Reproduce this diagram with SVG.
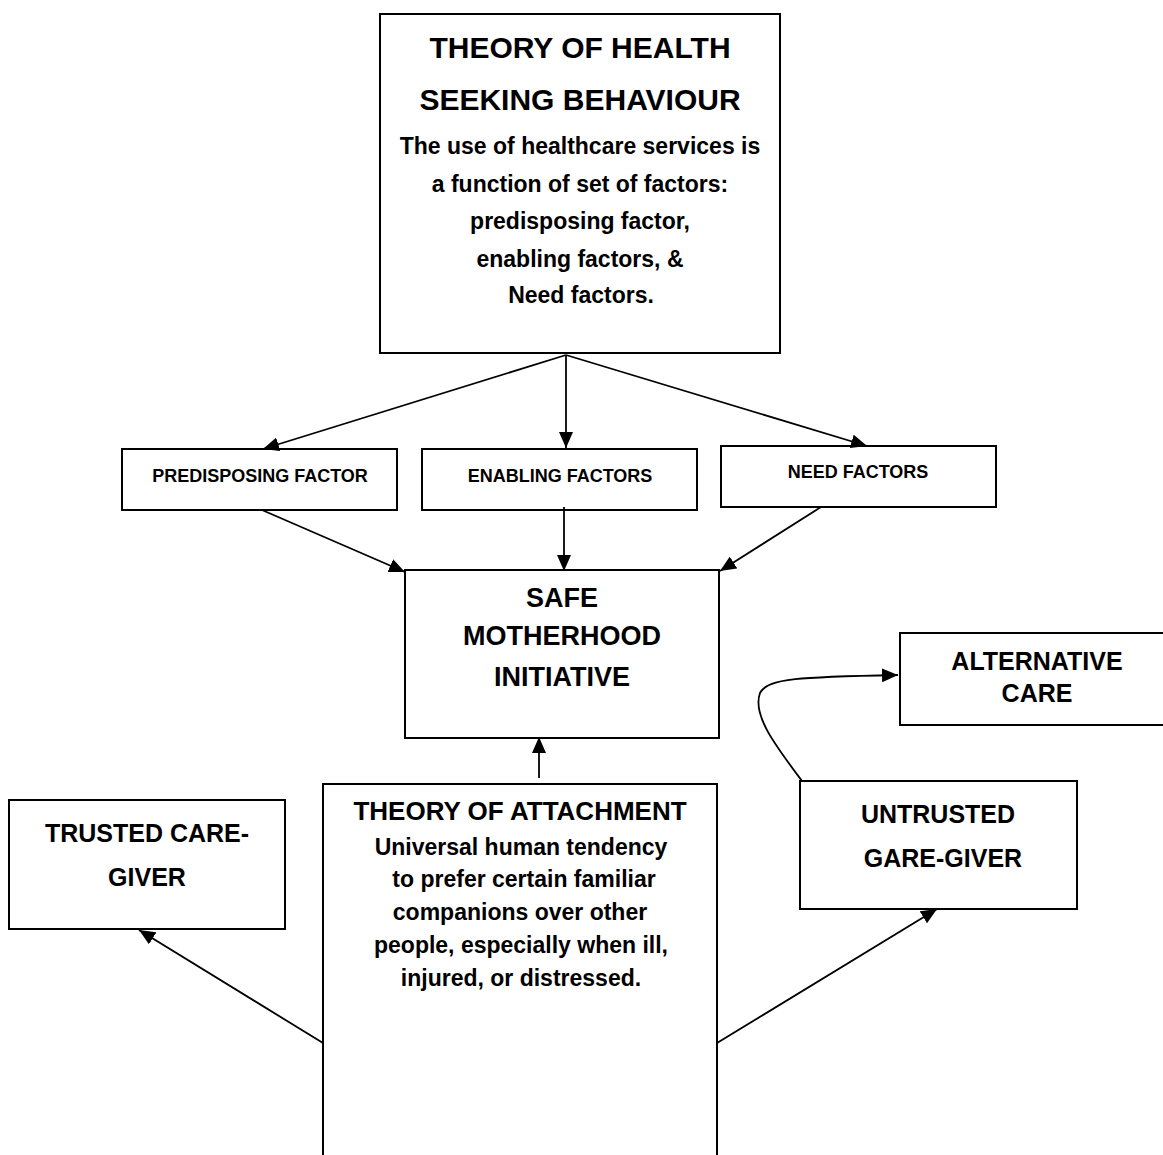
<svg xmlns="http://www.w3.org/2000/svg" width="1163" height="1155" viewBox="0 0 1163 1155">
<style>
.box{fill:#fff;stroke:#000;stroke-width:2}
.t{font-family:"Liberation Sans",Arial,sans-serif;font-weight:bold;fill:#000;text-anchor:middle}
.con{fill:none;stroke:#000;stroke-width:1.8}
</style>
<defs>
<marker id="ah" viewBox="0 0 16 14" refX="16" refY="7" markerWidth="16" markerHeight="14" markerUnits="userSpaceOnUse" orient="auto">
<path d="M0,0 L16,7 L0,14 z" fill="#000"/>
</marker>
</defs>
<rect width="1163" height="1155" fill="#fff"/>
<g id="health-theory">
<rect class="box" x="380" y="14" width="400" height="339"/>
<text class="t" x="580" y="58" font-size="30">THEORY OF HEALTH</text>
<text class="t" x="580" y="110" font-size="30">SEEKING BEHAVIOUR</text>
<text class="t" x="580" y="154" font-size="23">The use of healthcare services is</text>
<text class="t" x="580" y="192" font-size="23">a function of set of factors:</text>
<text class="t" x="580" y="229" font-size="23">predisposing factor,</text>
<text class="t" x="580" y="267" font-size="23">enabling factors, &amp;</text>
<text class="t" x="581" y="303" font-size="23">Need factors.</text>
</g>
<g id="predisposing">
<rect class="box" x="122" y="449" width="275" height="61"/>
<text class="t" x="260" y="482" font-size="18">PREDISPOSING FACTOR</text>
</g>
<g id="enabling">
<rect class="box" x="422" y="449" width="275" height="61"/>
<text class="t" x="560" y="482" font-size="18">ENABLING FACTORS</text>
</g>
<g id="need">
<rect class="box" x="721" y="446" width="275" height="61"/>
<text class="t" x="858" y="478" font-size="18">NEED FACTORS</text>
</g>
<g id="safe-motherhood">
<rect class="box" x="405" y="570" width="314" height="168"/>
<text class="t" x="562" y="607" font-size="27">SAFE</text>
<text class="t" x="562" y="645" font-size="27">MOTHERHOOD</text>
<text class="t" x="562" y="686" font-size="27">INITIATIVE</text>
</g>
<g id="alternative-care">
<rect class="box" x="900" y="633" width="300" height="92"/>
<text class="t" x="1037" y="670" font-size="25">ALTERNATIVE</text>
<text class="t" x="1037" y="702" font-size="25">CARE</text>
</g>
<g id="trusted">
<rect class="box" x="9" y="800" width="276" height="129"/>
<text class="t" x="147" y="842" font-size="25">TRUSTED CARE-</text>
<text class="t" x="147" y="886" font-size="25">GIVER</text>
</g>
<g id="untrusted">
<rect class="box" x="800" y="781" width="277" height="128"/>
<text class="t" x="938" y="823" font-size="25">UNTRUSTED</text>
<text class="t" x="943" y="867" font-size="25">GARE-GIVER</text>
</g>
<g id="attachment">
<rect class="box" x="323" y="784" width="394" height="400"/>
<text class="t" x="520" y="820" font-size="26">THEORY OF ATTACHMENT</text>
<text class="t" x="521" y="855" font-size="23">Universal human tendency</text>
<text class="t" x="524" y="887" font-size="23">to prefer certain familiar</text>
<text class="t" x="520" y="920" font-size="23">companions over other</text>
<text class="t" x="521" y="953" font-size="23">people, especially when ill,</text>
<text class="t" x="521" y="986" font-size="23">injured, or distressed.</text>
</g>
<g id="connectors">
<path class="con" d="M566,355 L263,449" marker-end="url(#ah)"/>
<path class="con" d="M566,355 L566,448" marker-end="url(#ah)"/>
<path class="con" d="M566,355 L867,446" marker-end="url(#ah)"/>
<path class="con" d="M262,510 L405,572" marker-end="url(#ah)"/>
<path class="con" d="M564,507 L564,571" marker-end="url(#ah)"/>
<path class="con" d="M821,507 L720,571" marker-end="url(#ah)"/>
<path class="con" d="M539,778 L539,737" marker-end="url(#ah)"/>
<path class="con" d="M323,1043 L139,930" marker-end="url(#ah)"/>
<path class="con" d="M717,1043 L937,909" marker-end="url(#ah)"/>
<path class="con" d="M802,781 C775,745 752,715 760,693 C768,678 800,677 898,675" marker-end="url(#ah)"/>
</g>
</svg>
